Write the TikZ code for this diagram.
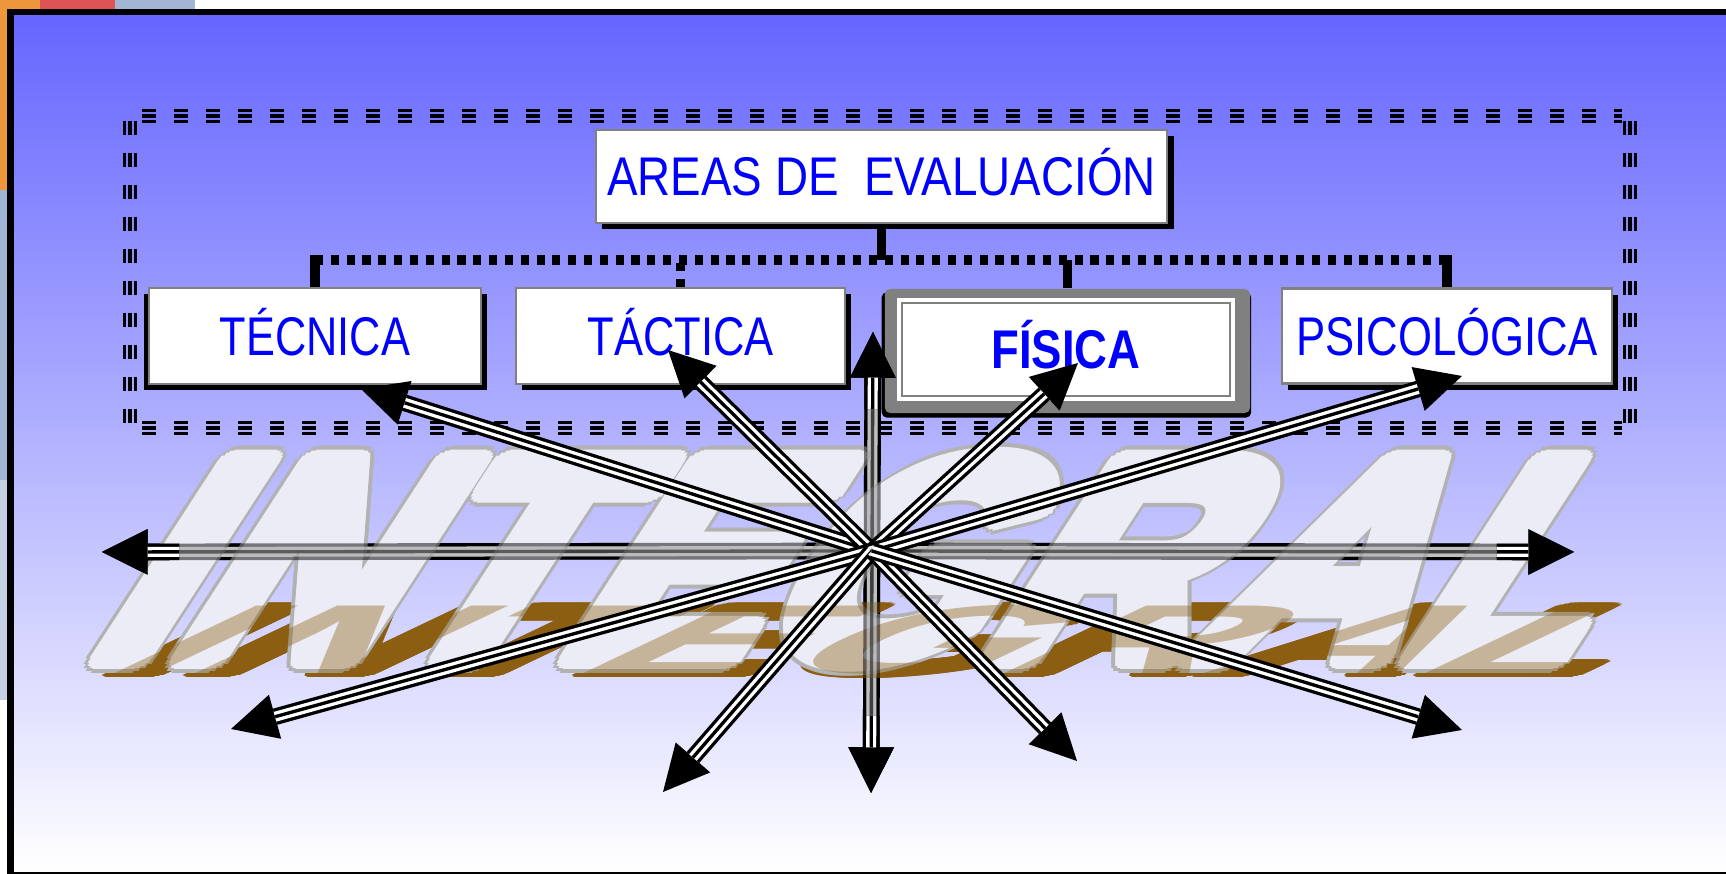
\documentclass[tikz,border=0pt]{standalone}
\usepackage{fontspec}
\setmainfont{Liberation Sans}
\usepackage{graphicx}
\usepackage{contour}
\contourlength{1.1pt}
\usetikzlibrary{arrows.meta, shadows, calc, positioning}
\definecolor{skytop}{RGB}{102,102,255}
\definecolor{skymid}{RGB}{196,196,253}
\definecolor{framegray}{RGB}{128,128,128}
\definecolor{lettergray}{RGB}{178,178,178}
\definecolor{letterfill}{RGB}{236,236,246}
\definecolor{shadowbrown}{RGB}{139,94,18}
\definecolor{scrapA}{RGB}{238,150,60}
\definecolor{scrapB}{RGB}{222,84,84}
\definecolor{scrapC}{RGB}{160,182,212}
\definecolor{scrapD}{RGB}{200,208,228}
\tikzset{
  boxtext/.style={inner sep=0pt, text=blue, font=\fontsize{15.5}{18}\selectfont,
    text height=11pt, text depth=0pt},
  box/.style={boxtext, draw=framegray, line width=0.7pt, fill=white,
    drop shadow={shadow xshift=1.8pt, shadow yshift=-1.8pt, fill=black, opacity=1}},
  stem/.style={line width=2.8pt},
  bus/.style={line width=2.6pt, dash pattern=on 2.3pt off 2.2pt},
  tridash/.style={dash pattern=on 4pt off 5.1pt},
  ray/.style={line width=4.75pt, -{Triangle[length=13pt, width=13pt, line width=0pt]}},
  raymid/.style={draw=white, line width=2.85pt, shorten >=13pt},
  raycore/.style={line width=0.95pt, shorten >=13pt},
  bigword/.style={anchor=base west, inner sep=0pt, transform shape,
    font=\bfseries\fontsize{82}{90}\selectfont},
  flatword/.style={bigword, xslant=2.1, yscale=0.34, text=shadowbrown},
}
\begin{document}
\begin{tikzpicture}[x=0.01cm, y=-0.01cm]
\useasboundingbox (0,0) rectangle (1726,874);
% bits of the picture underneath
\fill[white] (0,0) rectangle (1726,874);
\fill[scrapA] (0,0) rectangle (40,9);
\fill[scrapB] (40,0) rectangle (115,9);
\fill[scrapC] (115,0) rectangle (195,9);
\fill[scrapA] (0,9) rectangle (7,190);
\fill[scrapC] (0,190) rectangle (7,480);
\fill[scrapD] (0,480) rectangle (7,700);
% slide
\fill[black] (7,9) rectangle (1726,874);
\shade[top color=skytop, middle color=skymid, bottom color=white] (14,16) rectangle (1726,872);
% dashed frame
\foreach \o/\w in {-5.5/1.0pt, 0/1.4pt, 5.5/0.7pt} {
  \draw[tridash, line width=\w] (142,{116+\o}) -- (1622,{116+\o});
  \draw[tridash, line width=\w] (142,{428+\o}) -- (1622,{428+\o});
  \draw[tridash, line width=\w] ({130+\o},121) -- ({130+\o},432);
  \draw[tridash, line width=\w] ({1630+\o},121) -- ({1630+\o},432);
}
% boxes
\node[box, minimum width=5.71cm, minimum height=0.93cm] (areas) at (881.5,176.5)
  {\resizebox{5.48cm}{\height}{AREAS DE\ \ EVALUACIÓN}};
\node[box, drop shadow={shadow xshift=-1.5pt, shadow yshift=-1.8pt, fill=black, opacity=1},
  minimum width=3.32cm, minimum height=0.96cm] (tecnica) at (315,336)
  {\resizebox{1.90cm}{\height}{TÉCNICA}};
\node[box, minimum width=3.29cm, minimum height=0.96cm] (tactica) at (680.5,336)
  {\resizebox{1.86cm}{\height}{TÁCTICA}};
\node[box, minimum width=3.30cm, minimum height=0.95cm] (psico) at (1447,336)
  {\resizebox{3.01cm}{\height}{PSICOLÓGICA}};
\node[fill=framegray, rounded corners=1.5pt, inner sep=0pt, minimum width=3.65cm, minimum height=1.24cm,
  drop shadow={shadow xshift=-0.3pt, shadow yshift=-1.1pt, shadow scale=1.012, fill=black, opacity=1}]
  (fisica) at (1067.5,351) {};
\node[boxtext, draw=framegray, line width=0.6pt, fill=white, preaction={draw=white, line width=3pt},
  minimum width=3.28cm, minimum height=0.93cm, font=\bfseries\fontsize{15.5}{18}\selectfont]
  (fisicain) at (1066,349.5) {\resizebox{1.49cm}{\height}{FÍSICA}};
% tree lines
\coordinate (bus) at (881,260);
\draw[bus] (tecnica.north |- bus) -- (psico.north |- bus);
\draw[bus] (tactica.north) -- (tactica.north |- bus);
\draw[stem] (areas.south) -- (areas.south |- bus);
\draw[stem, shorten <=-1.3pt] (tecnica.north |- bus) -- (tecnica.north);
\draw[stem] (fisica.north |- bus) -- (fisica.north);
\draw[stem, shorten <=-1.3pt] (psico.north |- bus) -- (psico.north);
% arrow ends
\coordinate (ctr) at (872,551);
\coordinate (west) at (102,552);
\coordinate (east) at (1574,552);
\coordinate (up) at (873,332);
\coordinate (down) at (871,793);
\coordinate (totec) at (361,389);
\coordinate (totac) at (668,350);
\coordinate (tofis) at (1078,363);
\coordinate (topsi) at (1462,376);
\coordinate (sw) at (231,729);
\coordinate (ssw) at (663,792);
\coordinate (sse) at (1077,761);
\coordinate (se) at (1462,730);
\foreach \t in {west,east,up,down} {
  \draw[ray] (ctr) -- (\t);
  \draw[raymid] (ctr) -- (\t);
  \draw[raycore] (ctr) -- (\t);
}
% INTEGRAL
\node[flatword] (integralshadow) at (95,674)
  {\scalebox{1.01}[1]{\contourlength{3pt}\contour{shadowbrown}{INTEGRAL}}};
\node[bigword, xslant=0.65, text=lettergray] (integralrim) at (80,659)
  {\scalebox{1.01}[1]{\contourlength{4pt}\contour{lettergray}{INTEGRAL}}};
\node[bigword, xslant=0.65, text=letterfill] (integralword) at (80,659)
  {\scalebox{1.01}[1]{\contourlength{3pt}\contour{letterfill}{INTEGRAL}}};
\node[flatword, opacity=0.4] (integralveil) at (95,674)
  {\scalebox{1.01}[1]{INTEGRAL}};
\begin{scope}[opacity=0.5]
\foreach \t in {west,east,up,down} {
  \draw[ray] (ctr) -- (\t);
  \draw[raymid] (ctr) -- (\t);
  \draw[raycore] (ctr) -- (\t);
}
\end{scope}
\foreach \t in {west,east,up,down} {
  \draw[ray] ($(\t)!22pt!(ctr)$) -- (\t);
  \draw[raymid] ($(\t)!22pt!(ctr)$) -- (\t);
  \draw[raycore] ($(\t)!22pt!(ctr)$) -- (\t);
}
\foreach \t in {totec,totac,tofis,topsi,sw,ssw,sse,se} {
  \draw[ray] (ctr) -- (\t);
  \draw[raymid] (ctr) -- (\t);
  \draw[raycore] (ctr) -- (\t);
}
\end{tikzpicture}
\end{document}
